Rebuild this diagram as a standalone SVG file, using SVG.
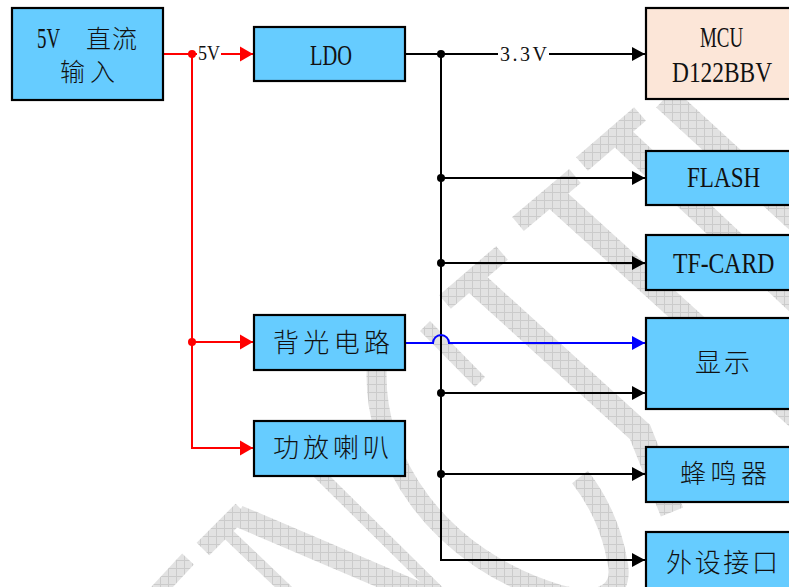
<svg xmlns="http://www.w3.org/2000/svg" width="789" height="587" viewBox="0 0 789 587">
<style>
.box{fill:#66CCFF;stroke:#000;stroke-width:2.2}
.mcu{fill:#FCE6D8;stroke:#000;stroke-width:2.2}
.lat{font-family:"Liberation Serif","DejaVu Serif",serif;fill:#111}
.cjk{font-family:"Noto Sans CJK SC","Noto Sans CJK JP",sans-serif;fill:#111;font-weight:300}
.wm{fill:none;stroke:url(#hatch)}
.red{stroke:#FF0000;stroke-width:2;fill:none}
.blk{stroke:#000;stroke-width:2;fill:none}
.blu{stroke:#0000FF;stroke-width:2;fill:none}
</style>
<defs>
<pattern id="hatch" width="8" height="8" patternUnits="userSpaceOnUse">
<rect width="8" height="8" fill="#e2e2e2"/>
<path d="M0,0.5H8M0.5,0V8" stroke="#cbcbcb" stroke-width="1"/>
</pattern>
<marker id="ar" markerWidth="14" markerHeight="16" refX="13" refY="8" orient="auto" markerUnits="userSpaceOnUse"><path d="M0,0.5L13,8L0,15.5Z" fill="#FF0000"/></marker>
<marker id="ak" markerWidth="14" markerHeight="16" refX="13" refY="8" orient="auto" markerUnits="userSpaceOnUse"><path d="M0,1L13,8L0,15Z" fill="#000"/></marker>
<marker id="ab" markerWidth="14" markerHeight="16" refX="13" refY="8" orient="auto" markerUnits="userSpaceOnUse"><path d="M0,1L13,8L0,15Z" fill="#0000FF"/></marker>
</defs>

<g id="watermark">
<path class="wm" stroke-width="24" d="M617,133L800,305"/>
<path class="wm" stroke-width="18" d="M582,164L640,114"/>
<path class="wm" stroke-width="26" d="M665,98L800,222"/>
<path class="wm" stroke-width="24" d="M553,196L800,420"/>
<path class="wm" stroke-width="18" d="M518,224L575,176"/>
<path class="wm" stroke-width="24" d="M476,283L640,432L672,512"/>
<path class="wm" stroke-width="18" d="M445,302L502,253"/>
<path class="wm" stroke-width="20" d="M377,362C370,460 440,560 560,595C605,606 625,590 617,560C612,530 598,500 580,477"/>
<path class="wm" stroke-width="14" d="M425,326L480,382"/>
<path class="wm" stroke-width="12" d="M295,450L445,598"/>
<path class="wm" stroke-width="22" d="M238,516L440,602"/>
<path class="wm" stroke-width="18" d="M203,549L242,510"/>
<path class="wm" stroke-width="12" d="M227,533L297,600"/>
<path class="wm" stroke-width="16" d="M188,559L150,600"/>
</g>

<g id="connectors">
<path class="red" d="M163,54H197"/>
<path class="red" d="M221,54H253" marker-end="url(#ar)"/>
<path class="red" d="M192,54V448H253" marker-end="url(#ar)"/>
<path class="red" d="M192,342H253" marker-end="url(#ar)"/>
<circle cx="192" cy="54" r="4" fill="#FF0000"/>
<circle cx="192" cy="342" r="4" fill="#FF0000"/>
<text class="lat" transform="translate(198,60) scale(0.9,1)" font-size="20">5V</text>

<path class="blk" d="M405,54H498"/>
<path class="blk" d="M549,54H645" marker-end="url(#ak)"/>
<text class="lat" x="500" y="61" font-size="20" textLength="47" lengthAdjust="spacing">3.3V</text>
<path class="blk" d="M441,54V560H645" marker-end="url(#ak)"/>
<path class="blk" d="M441,178H645" marker-end="url(#ak)"/>
<path class="blk" d="M441,263H645" marker-end="url(#ak)"/>
<path class="blk" d="M441,393H645" marker-end="url(#ak)"/>
<path class="blk" d="M441,474H645" marker-end="url(#ak)"/>
<circle cx="441" cy="54" r="4" fill="#000"/>
<circle cx="441" cy="178" r="4" fill="#000"/>
<circle cx="441" cy="263" r="4" fill="#000"/>
<circle cx="441" cy="393" r="4" fill="#000"/>
<circle cx="441" cy="474" r="4" fill="#000"/>
<path class="blu" d="M406,343H433A8,8 0 0 1 449,343H645" marker-end="url(#ab)"/>
</g>

<g id="n-5v">
<rect class="box" x="12" y="8" width="151" height="92"/>
<text class="lat" transform="translate(37,48) scale(0.63,1)" font-size="30">5V</text>
<text class="cjk" x="86" y="48" font-size="25" textLength="51" lengthAdjust="spacing">直流</text>
<text class="cjk" x="60" y="81" font-size="25" textLength="55" lengthAdjust="spacing">输入</text>
</g>

<g id="n-ldo">
<rect class="box" x="254" y="27" width="151" height="54"/>
<text class="lat" transform="translate(310,65) scale(0.68,1)" font-size="30">LDO</text>
</g>

<g id="n-backlight">
<rect class="box" x="254" y="315" width="151" height="55"/>
<text class="cjk" x="273" y="352" font-size="26" textLength="117" lengthAdjust="spacing">背光电路</text>
</g>

<g id="n-amp">
<rect class="box" x="254" y="421" width="151" height="55"/>
<text class="cjk" x="273" y="457" font-size="26" textLength="116" lengthAdjust="spacing">功放喇叭</text>
</g>

<g id="n-mcu">
<rect class="mcu" x="646" y="8" width="160" height="91"/>
<text class="lat" transform="translate(700,47) scale(0.63,1)" font-size="30">MCU</text>
<text class="lat" transform="translate(672,82) scale(0.78,1)" font-size="30">D122BBV</text>
</g>

<g id="n-flash">
<rect class="box" x="646" y="151" width="160" height="54"/>
<text class="lat" transform="translate(687,187) scale(0.77,1)" font-size="30">FLASH</text>
</g>

<g id="n-tf">
<rect class="box" x="646" y="235" width="160" height="55"/>
<text class="lat" transform="translate(673,273) scale(0.79,1)" font-size="30">TF-CARD</text>
</g>

<g id="n-display">
<rect class="box" x="646" y="318" width="160" height="91"/>
<text class="cjk" x="695" y="372" font-size="26" textLength="55" lengthAdjust="spacing">显示</text>
</g>

<g id="n-buzzer">
<rect class="box" x="646" y="447" width="160" height="55"/>
<text class="cjk" x="680" y="483" font-size="26" textLength="87" lengthAdjust="spacing">蜂鸣器</text>
</g>

<g id="n-ext">
<rect class="box" x="646" y="532" width="160" height="70"/>
<text class="cjk" x="666" y="572" font-size="26" textLength="112" lengthAdjust="spacing">外设接口</text>
</g>
</svg>
